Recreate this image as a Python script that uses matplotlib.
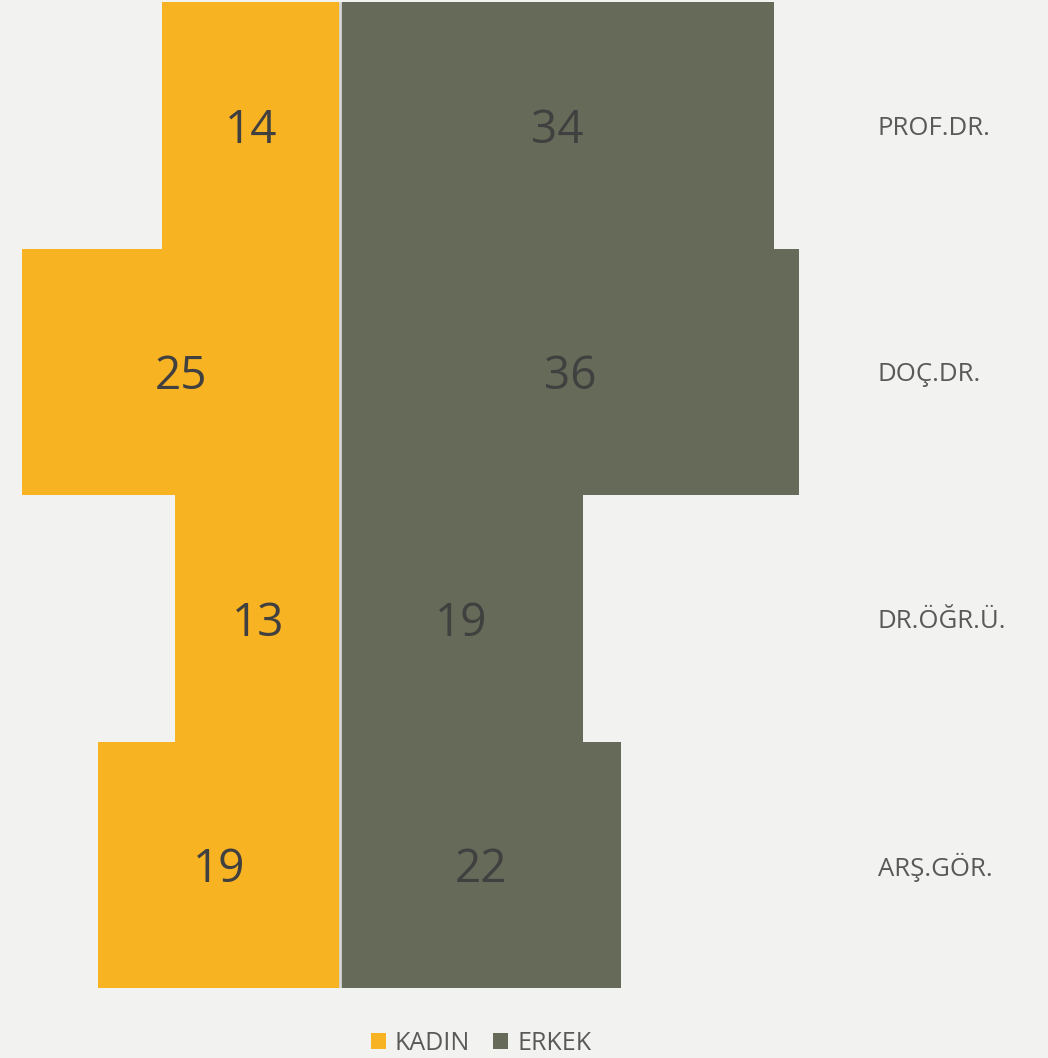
import matplotlib
matplotlib.use("Agg")
import matplotlib.pyplot as plt
from matplotlib.patches import Patch

categories = ["PROF.DR.", "DOÇ.DR.", "DR.ÖĞR.Ü.", "ARŞ.GÖR."]
kadin = [14, 25, 13, 19]
erkek = [34, 36, 19, 22]
series_names = ["KADIN", "ERKEK"]

BG = "#F2F2F0"
C_K = "#F8B323"
C_E = "#666A58"

plt.rcParams['font.family'] = ['Open Sans', 'DejaVu Sans']

fig = plt.figure(figsize=(10.48, 10.58), dpi=100, facecolor=BG)
ax = fig.add_axes([0, 70/1058, 1, 986/1058])
ax.set_facecolor(BG)

y = list(range(len(categories)))
ax.barh(y, [-v for v in kadin], height=1.0, color=C_K, linewidth=0)
ax.barh(y, erkek, height=1.0, color=C_E, linewidth=0)
ax.axvline(0, color="#D6D6D6", lw=2)

for i, (k, e) in enumerate(zip(kadin, erkek)):
    ax.text(-k/2, i, str(k), ha='center', va='center_baseline', fontsize=33, color="#404040")
    ax.text(e/2, i, str(e), ha='center', va='center_baseline', fontsize=33, color="#404040")
    ax.text(878/1048, i, categories[i], transform=ax.get_yaxis_transform(),
            ha='left', va='center_baseline', fontsize=18.5, color="#595959")

ax.set_ylim(3.5, -0.5)
ax.set_xlim(-340.5/12.74, (1048-340.5)/12.74)
ax.axis('off')

handles = [Patch(facecolor=C_K), Patch(facecolor=C_E)]
fig.legend(handles, series_names, loc='center', bbox_to_anchor=(481/1048, 1-1043/1058),
           ncol=2, frameon=False, fontsize=18, labelcolor="#595959",
           handlelength=0.6, handleheight=0.6, handletextpad=0.35, columnspacing=0.95)

fig.savefig("out.png", dpi=100, facecolor=BG)
